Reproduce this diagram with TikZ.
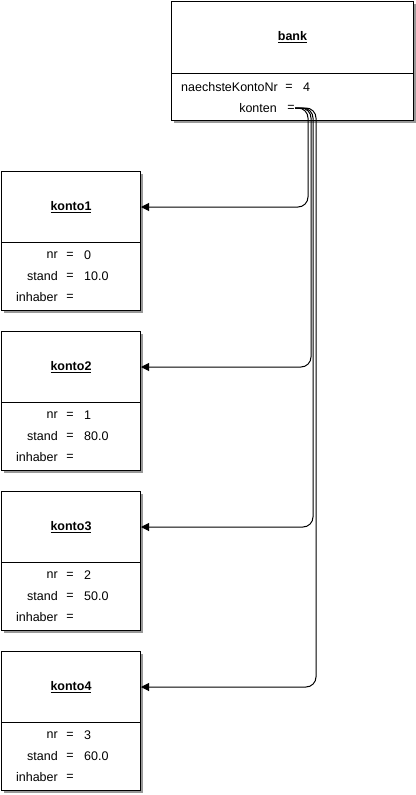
\documentclass[tikz,border=0pt]{standalone}
\usepackage{fontspec}
\setmainfont{Liberation Sans}
\usetikzlibrary{arrows.meta}
\begin{document}
\begin{tikzpicture}[x=1pt,y=-1pt,
  every node/.style={font=\fontsize{12.5}{14}\selectfont, inner sep=0pt},
  part/.style={draw=black, line width=1pt, fill=white, rectangle, anchor=north west},
  shadowbox/.style={fill=black!40, draw=none},
  conn/.style={draw=black, line width=1pt, rounded corners=10pt, -{Triangle[length=8pt,width=8pt]}}]
\useasboundingbox (0,0) rectangle (415,795);
% bank
\fill[shadowbox] (174,4) rectangle (416,123);
\node[part, minimum width=242pt, minimum height=72pt] (bt) at (171,1) {};
\node[part, minimum width=242pt, minimum height=47pt] (bb) at (171,73) {};
\node (btitle) at (bt.center) {\underline{\textbf{bank}}};
\node[anchor=east] (bl1) at (278,87) {naechsteKontoNr};
\node (be1) at (289,87) {=};
\node[anchor=west] (bv1) at (303,87) {4};
\node[anchor=east] (bl2) at (277,108) {konten};
\node (be2) at (291,108) {=};
\coordinate (kc) at (295,108);
% kontos
\foreach \i/\t/\nr/\st/\cx in {1/171/0/10.0/308, 2/331/1/80.0/311, 3/491/2/50.0/313, 4/651/3/60.0/316}{
  \fill[shadowbox] (4,\t+3) rectangle (143,\t+142);
  \node[part, minimum width=139pt, minimum height=71pt] (t\i) at (1,\t) {};
  \node[part, minimum width=139pt, minimum height=68pt] (b\i) at (1,\t+71) {};
  \node (title\i) at (t\i.center) {\underline{\textbf{konto\i}}};
  \node[anchor=east] (ln\i) at (58,\t+84) {nr};
  \node (en\i) at (70,\t+84) {=};
  \node[anchor=west] (vn\i) at (84,\t+84) {\nr};
  \node[anchor=east] (ls\i) at (58,\t+105) {stand};
  \node (es\i) at (70,\t+105) {=};
  \node[anchor=west] (vs\i) at (84,\t+105) {\st};
  \node[anchor=east] (li\i) at (58,\t+126) {inhaber};
  \node (ei\i) at (70,\t+126) {=};
  \draw[conn] (kc) -| (\cx,\t+36) -- (t\i.east);
}
\end{tikzpicture}
\end{document}
